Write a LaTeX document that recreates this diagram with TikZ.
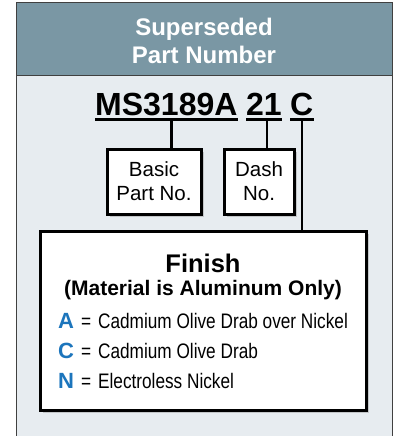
\documentclass[tikz,border=0pt]{standalone}
\usepackage{fontspec}
\setmainfont{Liberation Sans}
\newfontfamily\condfont[FakeStretch=0.82]{Liberation Sans}
\newfontfamily\letterfont{Liberation Sans}
\usetikzlibrary{positioning,shadows}
\definecolor{headblue}{HTML}{7A97A4}
\definecolor{bodygray}{HTML}{E7ECF0}
\definecolor{codeblue}{HTML}{1C75BC}
\newcommand{\codeletter}[1]{\textcolor{codeblue}{\letterfont\bfseries\fontsize{22}{24}\selectfont#1}\hspace{7pt}=\hspace{7pt}}

\begin{document}
\begin{tikzpicture}[
x=1pt,y=-1pt,
box/.style={draw,line width=3pt,fill=white,inner sep=0pt,
  drop shadow={opacity=0.35,shadow xshift=3pt,shadow yshift=-3pt}},
seg/.style={inner sep=0pt,anchor=base west,font=\bfseries\fontsize{32}{36}\selectfont},
uline/.style={line width=3pt},
link/.style={line width=2.5pt},
code/.style={anchor=base west,inner sep=0pt,font=\condfont\fontsize{21}{24}\selectfont}
]
\useasboundingbox (0,0) rectangle (393,436);
% frame
\fill[bodygray] (16,2) rectangle (392,437);
\fill[headblue] (16,2) rectangle (392,75);
\draw[black!75,line width=0.8pt] (16,437) -- (16,2) -- (392,2) -- (392,437);
\draw[black!75,line width=0.8pt] (16,75) -- (392,75);
\node[align=center,text=white,font=\bfseries\fontsize{24}{27.5}\selectfont] (title) at (204,41) {Superseded\\Part Number};
% part number
\node[seg] (ms) at (95,115) {MS3189A};
\node[seg] (dash) at (246,115) {21};
\node[seg] (fin) at (290,115) {C};
\foreach \s in {ms,dash,fin}
  \draw[uline] ([yshift=-4.5pt]\s.base west) -- ([yshift=-4.5pt]\s.base east);
% boxes
\node[box,minimum width=94pt,minimum height=65pt,align=center,
  font=\fontsize{20.5}{24}\selectfont] (basic) at (154,181.5) {Basic\\Part No.};
\node[box,minimum width=70pt,minimum height=65pt,align=center,
  font=\fontsize{20.5}{24}\selectfont] (dashno) at (259,181.5) {Dash\\No.};
\node[box,minimum width=326pt,minimum height=179pt] (finish) at (203,320.5) {};
\node[font=\bfseries\fontsize{25.5}{28}\selectfont,anchor=base] (fintitle) at (203,272) {Finish};
\node[font=\bfseries\fontsize{21}{24}\selectfont,anchor=base] (finsub) at (203,295) {(Material is Aluminum Only)};
\node[code] (codeA) at (58,328) {\codeletter{A}Cadmium Olive Drab over Nickel};
\node[code] (codeC) at (58,358) {\codeletter{C}Cadmium Olive Drab};
\node[code] (codeN) at (58,388) {\codeletter{N}Electroless Nickel};
% connectors
\draw[link] ([xshift=5pt,yshift=-4.5pt]ms.base) -- ([xshift=5pt]ms.base |- basic.north);
\draw[link] ([xshift=3pt,yshift=-4.5pt]dash.base) -- ([xshift=3pt]dash.base |- dashno.north);
\draw[link] ([yshift=-4.5pt]fin.base) -- (fin.base |- finish.north);
\end{tikzpicture}
\end{document}
